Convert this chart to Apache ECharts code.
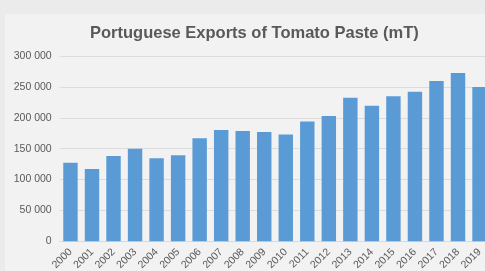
<!DOCTYPE html>
<html>
<head>
<meta charset="utf-8">
<script src="https://cdn.jsdelivr.net/npm/echarts@6/dist/echarts.min.js"></script>
<style>
html, body { margin: 0; padding: 0; overflow: hidden; background: #ebebeb; }
#chart { width: 485px; height: 271px; }
</style>
</head>
<body>
<div id="chart"></div>
<script>
var years = ['2000', '2001', '2002', '2003', '2004', '2005', '2006', '2007', '2008', '2009',
	'2010', '2011', '2012', '2013', '2014', '2015', '2016', '2017', '2018', '2019'];
var exportsMt = [127000, 117000, 138000, 150000, 134500, 139500, 167000, 180000, 178500, 177000,
	173000, 194000, 203000, 232500, 219500, 235000, 242000, 259500, 272500, 250000];
var yTicks = [0, 50000, 100000, 150000, 200000, 250000, 300000];

var chart = null;

/**
 * 천 단위를 공백으로 구분
 */
function fmtNum(v){
	return String(v).replace(/\B(?=(\d{3})+(?!\d))/g, ' ');
}

function drawChart(){
	var option = {
		backgroundColor: '#ebebeb',
		animation: false,
		graphic: [{
			type: 'rect',
			z: -10,
			shape: { x: 5, y: 14, width: 500, height: 270 },
			style: { fill: '#f2f2f2' }
		}],
		title: {
			text: 'Portuguese Exports of Tomato Paste (mT)',
			left: 90,
			top: 25,
			padding: 0,
			textStyle: {
				fontFamily: 'Liberation Sans',
				fontSize: 16.5,
				fontWeight: 'bold',
				color: '#595959'
			}
		},
		grid: {
			left: 59.7,
			top: 56,
			width: 430.6,
			bottom: 29.7,
			outerBoundsMode: 'none'
		},
		xAxis: {
			type: 'category',
			data: years,
			axisLine: { lineStyle: { color: '#d9d9d9' } },
			axisTick: { show: false },
			axisLabel: {
				rotate: 45,
				margin: 9,
				interval: 0,
				fontFamily: 'Liberation Sans',
				fontSize: 10.5,
				color: '#595959'
			}
		},
		yAxis: {
			type: 'value',
			min: yTicks[0],
			max: yTicks[yTicks.length - 1],
			interval: 50000,
			axisLine: { show: false },
			axisTick: { show: false },
			splitLine: { lineStyle: { color: '#dcdcdc' } },
			axisLabel: {
				margin: 8,
				fontFamily: 'Liberation Sans',
				fontSize: 10.5,
				color: '#595959',
				formatter: fmtNum
			}
		},
		series: [{
			type: 'bar',
			name: 'Exports',
			data: exportsMt,
			barCategoryGap: '33%',
			itemStyle: { color: '#5b9bd5' }
		}]
	};
	chart.setOption(option);
}

chart = echarts.init(document.getElementById('chart'));
drawChart();
</script>
</body>
</html>
